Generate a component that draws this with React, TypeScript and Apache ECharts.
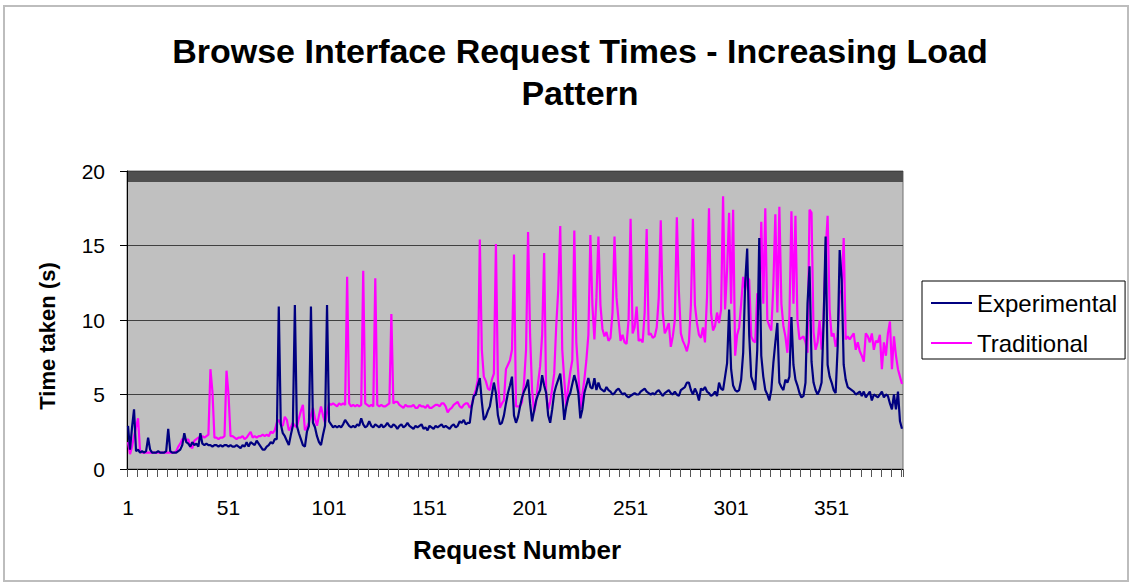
import React, { useEffect, useRef } from "react";
import * as echarts from "echarts";

const experimental = [
  2.9, 1.3, 2.8, 4.0, 1.2, 1.3, 1.1, 1.2, 1.1, 1.2,
  2.1, 1.3, 1.1, 1.1, 1.1, 1.2, 1.1, 1.1, 1.1, 1.2,
  2.7, 1.2, 1.1, 1.1, 1.1, 1.2, 1.3, 1.6, 2.4, 1.8,
  1.7, 1.5, 1.8, 1.6, 1.7, 1.5, 2.4, 1.7, 1.6, 1.7,
  1.6, 1.6, 1.5, 1.6, 1.6, 1.5, 1.6, 1.5, 1.6, 1.6,
  1.5, 1.6, 1.5, 1.5, 1.6, 1.5, 1.4, 1.6, 1.5, 1.8,
  1.5, 1.8, 1.7, 1.6, 1.9, 1.7, 1.5, 1.3, 1.3, 1.5,
  1.6, 1.8, 1.7, 2.0, 2.0, 10.9, 3.0, 2.4, 2.2, 1.9,
  1.6, 2.3, 2.9, 11.0, 2.9, 2.4, 2.0, 1.6, 1.5, 2.5,
  2.9, 10.9, 3.1, 2.8, 2.2, 1.8, 1.6, 2.3, 2.9, 11.0,
  3.2, 3.0, 2.8, 2.9, 2.8, 2.9, 2.8, 3.0, 3.3, 3.1,
  2.9, 2.8, 2.9, 2.8, 3.0, 2.9, 3.4, 3.0, 2.8, 2.9,
  3.2, 2.9, 2.8, 3.0, 2.9, 2.8, 3.0, 2.8, 2.9, 3.1,
  2.9, 2.8, 3.0, 2.9, 2.7, 2.9, 3.0, 2.8, 2.9, 3.1,
  2.9, 2.8, 2.7, 2.9, 2.8, 2.9, 3.0, 2.7, 2.8, 2.6,
  2.9, 2.8, 2.7, 2.9, 2.8, 2.9, 3.0, 2.8, 2.9, 2.8,
  2.7, 2.9, 3.0, 2.8, 2.9, 3.2, 3.1, 3.3, 3.0, 3.1,
  3.1, 4.2, 4.9, 5.0, 5.6, 6.1, 4.5, 3.3, 3.5, 3.9,
  4.2, 5.0, 5.8, 5.1, 3.6, 3.0, 3.1, 3.6, 4.4, 5.1,
  5.6, 6.2, 3.6, 3.1, 3.5, 4.2, 4.8, 5.2, 5.5, 6.0,
  4.4, 3.2, 3.9, 4.6, 5.0, 5.3, 6.3, 5.6, 5.1, 3.6,
  3.1, 4.0, 5.1, 5.6, 6.0, 6.4, 5.0, 3.3, 4.2, 4.8,
  5.1, 5.7, 6.3, 5.8, 5.1, 3.4, 4.0, 5.1, 5.6, 6.1,
  5.5, 5.4, 6.1, 5.3, 5.8, 5.4, 5.3, 5.2, 5.5, 5.3,
  5.2, 5.0, 5.1, 5.3, 5.4, 5.2, 5.0, 5.1, 4.9, 4.8,
  4.9, 5.0, 5.1, 5.0, 5.0, 5.2, 5.3, 5.4, 5.2, 5.1,
  5.0, 5.1, 5.0, 5.2, 5.3, 5.1, 4.9, 5.1, 5.2, 5.3,
  5.1, 5.0, 5.2, 5.0, 4.9, 5.3, 5.4, 5.5, 5.8, 5.8,
  5.3, 5.0, 5.4, 5.1, 4.6, 5.4, 5.3, 5.5, 5.2, 5.1,
  4.9, 5.0, 5.2, 4.9, 5.8, 5.4, 5.3, 6.2, 7.1, 10.7,
  6.7, 5.6, 5.3, 5.2, 5.3, 6.0, 7.8, 12.5, 14.8, 9.0,
  6.2, 5.8, 5.3, 8.0, 15.5, 7.6, 6.2, 5.3, 5.0, 4.6,
  5.3, 7.1, 8.5, 9.8, 5.8, 5.5, 5.3, 6.0, 5.8, 6.2,
  10.2, 7.0, 6.0, 5.6, 5.1, 4.8, 4.9, 5.8, 11.1, 13.6,
  7.2, 5.8, 5.3, 5.0, 5.3, 5.8, 9.8, 15.6, 7.0, 6.2,
  5.8, 5.3, 5.1, 8.2, 14.7, 12.7, 7.0, 6.0, 5.5, 5.4,
  5.3, 5.2, 5.0, 5.1, 5.2, 4.9, 5.2, 4.8, 5.0, 5.2,
  4.6, 5.0, 4.9, 4.8, 5.0, 5.2, 4.8, 5.0, 4.9, 4.4,
  4.0, 5.0, 4.0, 5.2, 3.2, 2.7,
];

const traditional = [
  1.8, 1.0, 1.5, 2.2, 2.8, 3.4, 1.2, 1.1, 1.1, 1.1,
  1.1, 1.1, 1.1, 1.1, 1.1, 1.1, 1.1, 1.1, 1.1, 1.1,
  1.1, 1.1, 1.1, 1.1, 1.2, 1.5, 1.7, 2.0, 2.0, 1.9,
  2.0, 1.5, 1.4, 1.9, 2.0, 2.1, 2.1, 2.2, 2.1, 2.2,
  2.3, 6.7, 5.2, 2.1, 2.1, 2.0, 2.1, 2.1, 2.2, 6.6,
  5.0, 2.2, 2.2, 2.1, 2.0, 2.1, 2.1, 2.2, 2.0, 2.1,
  2.3, 2.5, 2.1, 2.2, 2.1, 2.2, 2.2, 2.3, 2.2, 2.3,
  2.2, 2.5, 2.4, 2.6, 3.1, 3.3, 3.0, 2.9, 3.5, 3.3,
  2.6, 2.8, 3.1, 2.9, 2.8, 3.4, 3.9, 4.3, 2.6, 2.8,
  3.1, 3.6, 4.1, 3.4, 2.9, 3.6, 4.2, 3.6, 3.1, 3.8,
  4.4, 4.3, 4.4, 4.3, 4.2, 4.4, 4.3, 4.4, 4.3, 12.9,
  4.4, 4.2, 4.3, 4.2, 4.3, 4.2, 4.3, 13.3, 4.4, 4.3,
  4.2, 4.3, 4.2, 12.8, 4.3, 4.2, 4.3, 4.2, 4.2, 4.3,
  4.4, 10.4, 4.4, 4.5, 4.5, 4.3, 4.2, 4.1, 4.3, 4.2,
  4.2, 4.2, 4.3, 4.1, 4.1, 4.3, 4.2, 4.2, 4.1, 4.3,
  4.1, 4.1, 4.2, 4.3, 4.3, 4.2, 4.4, 4.4, 4.2, 3.8,
  4.0, 4.1, 4.3, 4.4, 4.5, 4.2, 4.1, 4.3, 4.4, 4.4,
  4.1, 4.3, 4.9, 5.3, 6.0, 15.4, 8.0, 6.2, 5.9, 5.4,
  5.3, 6.0, 6.4, 15.1, 6.0, 4.1, 4.4, 4.6, 6.7, 7.0,
  7.3, 8.0, 14.4, 4.2, 4.2, 4.2, 4.5, 5.8, 8.0, 15.9,
  9.0, 5.3, 3.8, 4.5, 5.8, 6.9, 9.0, 14.5, 5.1, 4.0,
  4.5, 5.4, 6.4, 9.6, 12.0, 16.3, 8.0, 6.0, 4.2, 5.5,
  6.5, 7.3, 16.0, 8.5, 6.4, 4.0, 5.0, 6.0, 7.3, 9.0,
  15.7, 11.0, 8.7, 11.5, 15.6, 11.0, 9.4, 8.9, 9.2, 8.6,
  8.8, 10.5, 15.6, 11.5, 10.0, 8.6, 9.0, 8.5, 8.4, 10.0,
  16.8, 9.1, 9.5, 10.9, 8.6, 8.7, 8.5, 10.5, 16.1, 9.0,
  9.1, 8.8, 8.9, 9.5, 11.5, 16.7, 10.5, 9.1, 9.4, 9.8,
  8.2, 8.9, 10.0, 16.9, 12.0, 9.1, 8.6, 8.3, 7.9, 8.5,
  11.0, 16.8, 11.0, 9.8, 9.0, 8.8, 9.5, 8.5, 11.5, 17.5,
  10.5, 9.3, 9.6, 10.5, 9.8, 10.7, 18.3, 10.7, 13.4, 17.2,
  11.1, 17.4, 7.6, 9.0, 9.5, 11.1, 12.9, 12.0, 12.9, 12.7,
  8.9, 8.6, 8.5, 11.8, 10.7, 16.6, 11.1, 17.5, 10.0, 9.6,
  9.3, 12.3, 17.1, 10.5, 17.6, 11.1, 9.6, 8.9, 7.8, 10.2,
  17.3, 11.1, 17.0, 10.0, 8.7, 8.8, 8.9, 8.5, 7.8, 17.4,
  17.2, 9.2, 8.0, 8.5, 10.0, 8.0, 10.2, 14.5, 17.0, 10.7,
  8.9, 9.1, 8.2, 8.9, 11.8, 12.0, 15.5, 8.7, 8.9, 8.7,
  8.9, 9.1, 8.0, 8.5, 7.9, 7.6, 7.2, 9.1, 8.9, 8.5,
  9.1, 8.0, 8.6, 8.5, 9.0, 6.7, 8.5, 7.6, 9.1, 9.9,
  6.7, 8.9, 7.6, 6.7, 6.2, 5.7,
];

const requestNumbers = experimental.map((_, i) => String(i + 1));
const seriesNames = ["Experimental", "Traditional"];
const seriesColors = ["#000080", "#ff00ff"];

const FONT = "'Liberation Sans', Arial, Helvetica, sans-serif";

export default function App() {
  const ref = useRef<HTMLDivElement>(null);

  useEffect(() => {
    if (!ref.current) return;
    const chart = echarts.init(ref.current, null, { renderer: "svg" });
    chart.setOption({
      animation: false,
      backgroundColor: "#ffffff",
      title: {
        text: "Browse Interface Request Times - Increasing Load\nPattern",
        left: 575,
        top: 25,
        textAlign: "center",
        textStyle: {
          fontFamily: FONT,
          fontSize: 34,
          fontWeight: "bold",
          color: "#000000",
          lineHeight: 42,
        },
      },
      legend: {
        data: seriesNames,
        orient: "vertical",
        left: 922,
        top: 281,
        padding: [10, 8, 4, 9],
        itemWidth: 41,
        itemHeight: 2,
        itemGap: 16,
        icon: "rect",
        borderColor: "#000000",
        borderWidth: 1,
        backgroundColor: "#ffffff",
        textStyle: { fontFamily: FONT, fontSize: 24, color: "#000000", lineHeight: 24 },
      },
      grid: {
        left: 127,
        top: 171,
        width: 776,
        height: 298,
        show: true,
        backgroundColor: "#c0c0c0",
        borderColor: "#707070",
        borderWidth: 1,
      },
      xAxis: {
        type: "category",
        data: requestNumbers,
        boundaryGap: true,
        axisLine: { show: true, lineStyle: { color: "#000000", width: 1 } },
        axisTick: { show: true, interval: 4, length: 8, lineStyle: { color: "#555555" } },
        axisLabel: {
          interval: 49,
          margin: 28,
          fontFamily: FONT,
          fontSize: 21,
          color: "#000000",
        },
        splitLine: { show: false },
      },
      yAxis: {
        type: "value",
        min: 0,
        max: 20,
        interval: 5,
        axisLine: { show: true, lineStyle: { color: "#000000", width: 1 } },
        axisTick: { show: true, length: 7, lineStyle: { color: "#000000" } },
        axisLabel: { margin: 22, fontFamily: FONT, fontSize: 21, color: "#000000" },
        splitLine: { show: true, lineStyle: { color: "#404040", width: 1 } },
      },
      series: [
        {
          name: seriesNames[0],
          type: "line",
          data: experimental,
          symbol: "none",
          z: 3,
          color: seriesColors[0],
          lineStyle: { color: seriesColors[0], width: 2.2 },
        },
        {
          name: seriesNames[1],
          type: "line",
          data: traditional,
          symbol: "none",
          z: 2,
          color: seriesColors[1],
          lineStyle: { color: seriesColors[1], width: 2.2 },
        },
      ],
      graphic: [
        {
          type: "rect",
          silent: true,
          shape: { x: 4, y: 6, width: 1124, height: 575 },
          style: { fill: "none", stroke: "#bdbdbd", lineWidth: 2 },
        },
        {
          type: "rect",
          silent: true,
          shape: { x: 127, y: 171, width: 776, height: 11 },
          style: { fill: "#4f4f4f" },
        },
        {
          type: "text",
          silent: true,
          x: 47,
          y: 336,
          rotation: Math.PI / 2,
          style: {
            text: "Time taken (s)",
            font: `bold 22px ${FONT}`,
            fill: "#000000",
            textAlign: "center",
            textVerticalAlign: "middle",
          },
        },
        {
          type: "text",
          silent: true,
          x: 517,
          y: 550,
          style: {
            text: "Request Number",
            font: `bold 26px ${FONT}`,
            fill: "#000000",
            textAlign: "center",
            textVerticalAlign: "middle",
          },
        },
      ],
    });
    return () => chart.dispose();
  }, []);

  return (
    <div
      ref={ref}
      style={{ position: "fixed", left: 0, top: 0, width: 1133, height: 588 }}
    />
  );
}
